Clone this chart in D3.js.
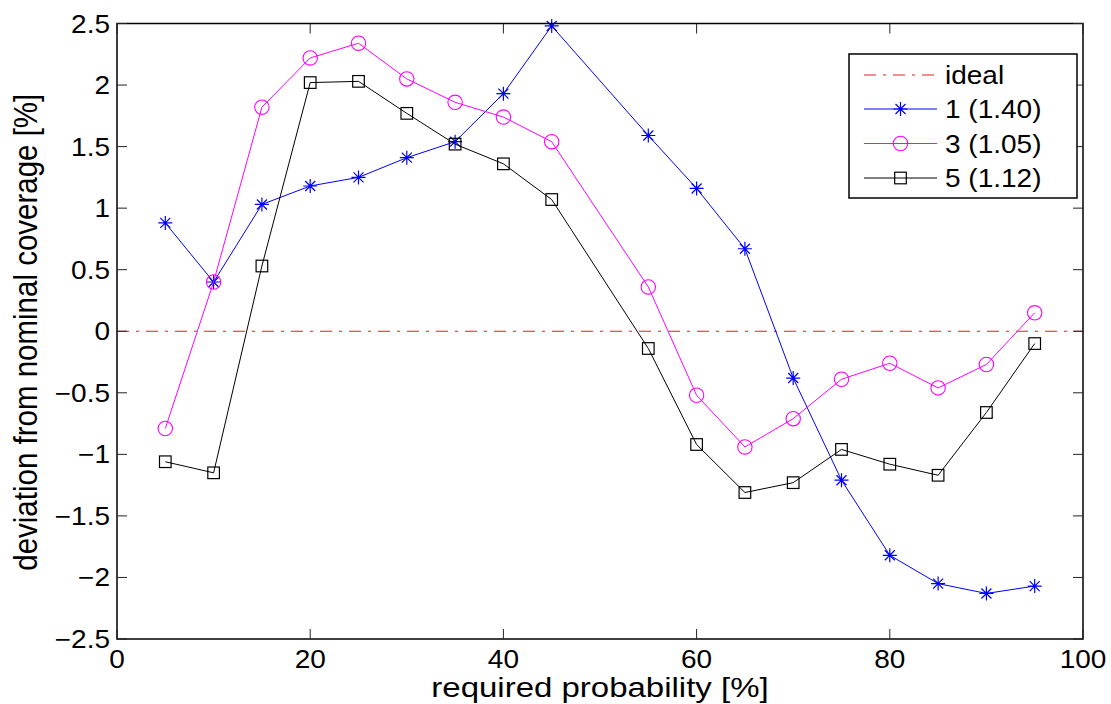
<!DOCTYPE html>
<html>
<head>
<meta charset="utf-8">
<script src="https://cdn.jsdelivr.net/npm/d3@7"></script>
<style>
  html, body { margin: 0; padding: 0; background: #fff; }
  svg { display: block; }
  text { font-family: "Liberation Sans", Arial, Helvetica, sans-serif; fill: #000; }
</style>
</head>
<body>
<svg id="chart" width="1111" height="704"></svg>
<script>
// ---- data ----
const probabilities = [5, 10, 15, 20, 25, 30, 35, 40, 45, 55, 60, 65, 70, 75, 80, 85, 90, 95];
const series1 = [0.88, 0.40, 1.03, 1.18, 1.25, 1.41, 1.54, 1.93, 2.48, 1.59, 1.16, 0.67, -0.38, -1.21, -1.82, -2.05, -2.13, -2.07];
const series3 = [-0.79, 0.40, 1.82, 2.22, 2.34, 2.05, 1.86, 1.74, 1.54, 0.36, -0.52, -0.94, -0.71, -0.39, -0.26, -0.46, -0.27, 0.15];
const series5 = [-1.06, -1.15, 0.53, 2.02, 2.03, 1.77, 1.52, 1.36, 1.07, -0.14, -0.92, -1.31, -1.23, -0.96, -1.08, -1.17, -0.66, -0.10];
const idealX = [0, 100];
const idealY = [0, 0];
const xTicks = [0, 20, 40, 60, 80, 100];
const yTicks = [-2.5, -2, -1.5, -1, -0.5, 0, 0.5, 1, 1.5, 2, 2.5];
const legendLabels = ["ideal", "1 (1.40)", "3 (1.05)", "5 (1.12)"];
const xLabel = "required probability [%]";
const yLabel = "deviation from nominal coverage [%]";

// ---- layout ----
const svg = d3.select("#chart");
const L = 117, R = 1083, T = 23.5, B = 639;
const SX = 1.12; // horizontal text stretch
const x = d3.scaleLinear().domain([0, 100]).range([L, R]);
const y = d3.scaleLinear().domain([-2.5, 2.5]).range([B, T]);

const fmt = v => (v < 0 ? "\u2212" : "") + String(Math.abs(v));

// ideal line
const line = d3.line().x(d => x(d[0])).y(d => y(d[1]));
const plot = svg.append("g");
plot.append("path")
  .attr("d", line(idealX.map((v, i) => [v, idealY[i]])))
  .attr("fill", "none").attr("stroke", "#e02020").attr("stroke-width", 1)
  .attr("stroke-dasharray", "12,7,3,7");

const defs = [
  { data: series1, color: "#0000ff", marker: "star" },
  { data: series3, color: "#ff00ff", marker: "circle" },
  { data: series5, color: "#000000", marker: "square" }
];

function drawMarker(g, type, cx, cy, color) {
  if (type === "star") {
    const s = 7, d = 5;
    const p = `M${cx - s},${cy}L${cx + s},${cy}M${cx},${cy - s}L${cx},${cy + s}` +
      `M${cx - d},${cy - d}L${cx + d},${cy + d}M${cx - d},${cy + d}L${cx + d},${cy - d}`;
    g.append("path").attr("d", p).attr("stroke", color).attr("stroke-width", 1.2).attr("fill", "none");
  } else if (type === "circle") {
    g.append("circle").attr("cx", cx).attr("cy", cy).attr("r", 7.2)
      .attr("fill", "none").attr("stroke", color).attr("stroke-width", 1.1);
  } else {
    g.append("rect").attr("x", cx - 5.8).attr("y", cy - 5.8).attr("width", 11.6).attr("height", 11.6)
      .attr("fill", "none").attr("stroke", color).attr("stroke-width", 1.2);
  }
}

defs.forEach(s => {
  const pts = probabilities.map((p, i) => [p, s.data[i]]);
  plot.append("path").attr("d", line(pts))
    .attr("fill", "none").attr("stroke", s.color).attr("stroke-width", 1);
  const mg = plot.append("g");
  pts.forEach(p => drawMarker(mg, s.marker, x(p[0]), y(p[1]), s.color));
});

// frame
svg.append("rect").attr("x", L).attr("y", T).attr("width", R - L).attr("height", B - T)
  .attr("fill", "none").attr("stroke", "#000").attr("stroke-width", 1.5);

// ticks (inside, all four sides)
const tk = svg.append("g").attr("stroke", "#222").attr("stroke-width", 1);
xTicks.forEach(v => {
  tk.append("line").attr("x1", x(v)).attr("x2", x(v)).attr("y1", B).attr("y2", B - 10);
  tk.append("line").attr("x1", x(v)).attr("x2", x(v)).attr("y1", T).attr("y2", T + 10);
});
yTicks.forEach(v => {
  tk.append("line").attr("x1", L).attr("x2", L + 10).attr("y1", y(v)).attr("y2", y(v));
  tk.append("line").attr("x1", R).attr("x2", R - 10).attr("y1", y(v)).attr("y2", y(v));
});

function stretchedText(tx, ty, str, size, anchor, sx) {
  return svg.append("text")
    .attr("transform", `translate(${tx},${ty}) scale(${sx || SX},1)`)
    .attr("text-anchor", anchor).attr("font-size", size).text(str);
}

// tick labels
xTicks.forEach(v => stretchedText(x(v), 668, fmt(v), 25, "middle"));
yTicks.forEach(v => stretchedText(110, y(v) + 9, fmt(v), 25, "end"));

// axis labels
stretchedText((L + R) / 2, 697, xLabel, 27.5, "middle", 1.2);
svg.append("text")
  .attr("transform", `translate(37,${(T + B) / 2 + 1}) rotate(-90) scale(1,${SX})`)
  .attr("text-anchor", "middle").attr("font-size", 29.5).text(yLabel);

// legend
const lg = svg.append("g");
lg.append("rect").attr("x", 849).attr("y", 54).attr("width", 228).attr("height", 144)
  .attr("fill", "#fff").attr("stroke", "#000").attr("stroke-width", 1.5);
const legendItems = [
  { color: "#e02020", marker: null, dash: "12,7,3,7" },
  { color: "#0000ff", marker: "star" },
  { color: "#ff00ff", marker: "circle" },
  { color: "#000000", marker: "square" }
];
const legendYs = [75, 109, 143.5, 178];
legendItems.forEach((it, i) => {
  const ly = legendYs[i];
  lg.append("line").attr("x1", 864).attr("x2", 937).attr("y1", ly).attr("y2", ly)
    .attr("stroke", it.color).attr("stroke-width", 1)
    .attr("stroke-dasharray", it.dash || null);
  if (it.marker) drawMarker(lg, it.marker, 900.5, ly, it.color);
  lg.append("text").attr("transform", `translate(945,${ly + 9}) scale(${SX},1)`)
    .attr("font-size", 25).text(legendLabels[i]);
});
</script>
</body>
</html>
